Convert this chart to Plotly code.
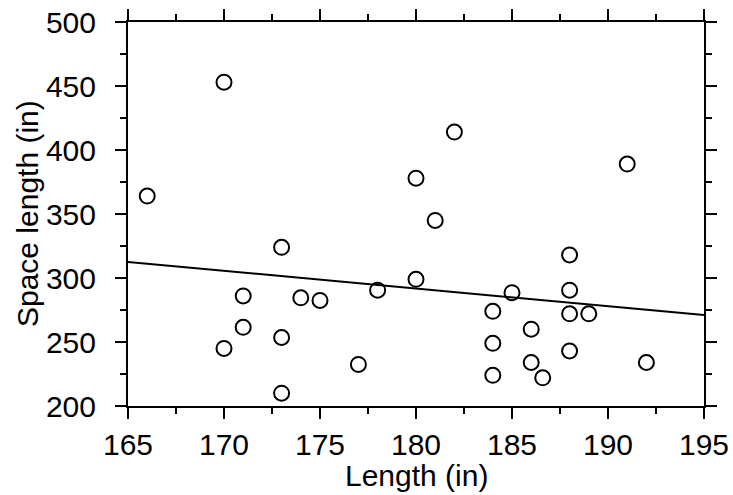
import plotly.graph_objects as go

# Car length vs. parking space length (inches)
length_in = [170, 166, 173, 171, 174, 175, 171, 170, 173, 173,
             182, 180, 181, 178, 180, 177, 185, 184, 184, 184,
             186, 186, 186.6, 188, 188, 188, 188, 189, 191, 192]
space_in = [453, 364, 324, 286, 284.5, 282.5, 261.5, 245, 253.5, 210,
            414, 378, 345, 290.5, 299, 232.5, 288.5, 274, 249, 224,
            260, 234, 222, 318, 290.5, 272, 243, 272, 389, 234]

# Least-squares trend line endpoints
fit_x = [165, 195]
fit_y = [312.5, 271]

font = "Liberation Sans, Arial, sans-serif"
fsize = 30

fig = go.Figure()
fig.add_trace(go.Scatter(
    x=fit_x, y=fit_y, mode="lines",
    line=dict(color="black", width=2), showlegend=False, hoverinfo="skip",
))
fig.add_trace(go.Scatter(
    x=length_in, y=space_in, mode="markers",
    marker=dict(symbol="circle-open", size=15, color="black",
                line=dict(color="black", width=2)),
    showlegend=False,
))

axis_common = dict(
    showline=True, linecolor="black", linewidth=2,
    mirror="ticks", ticks="outside", ticklen=11, tickwidth=2, tickcolor="black",
    showgrid=False, zeroline=False, automargin=False,
    tickfont=dict(family=font, size=fsize, color="black"),
)

fig.update_xaxes(
    range=[165, 195], tick0=165, dtick=5,
    minor=dict(ticks="outside", ticklen=6, tickwidth=2, tickcolor="black", dtick=2.5, showgrid=False),
    **axis_common,
)
fig.update_yaxes(
    range=[200, 500], tick0=200, dtick=50, ticklabelstandoff=13,
    minor=dict(ticks="outside", ticklen=6, tickwidth=2, tickcolor="black", dtick=25, showgrid=False),
    **axis_common,
)

# Axis titles placed as annotations for precise positioning
title_font = dict(family=font, size=fsize, color="black")
fig.add_annotation(text="Length (in)", xref="paper", yref="paper",
                   x=0.5, y=-0.182, xanchor="center", yanchor="middle",
                   showarrow=False, font=title_font)
fig.add_annotation(text="Space length (in)", xref="paper", yref="paper",
                   x=-0.1753, y=0.5, xanchor="center", yanchor="middle",
                   textangle=-90, showarrow=False, font=title_font)

fig.update_layout(
    width=733, height=495,
    margin=dict(l=128, r=29, t=22, b=89),
    plot_bgcolor="white", paper_bgcolor="white",
)

fig.write_html("out.html")
